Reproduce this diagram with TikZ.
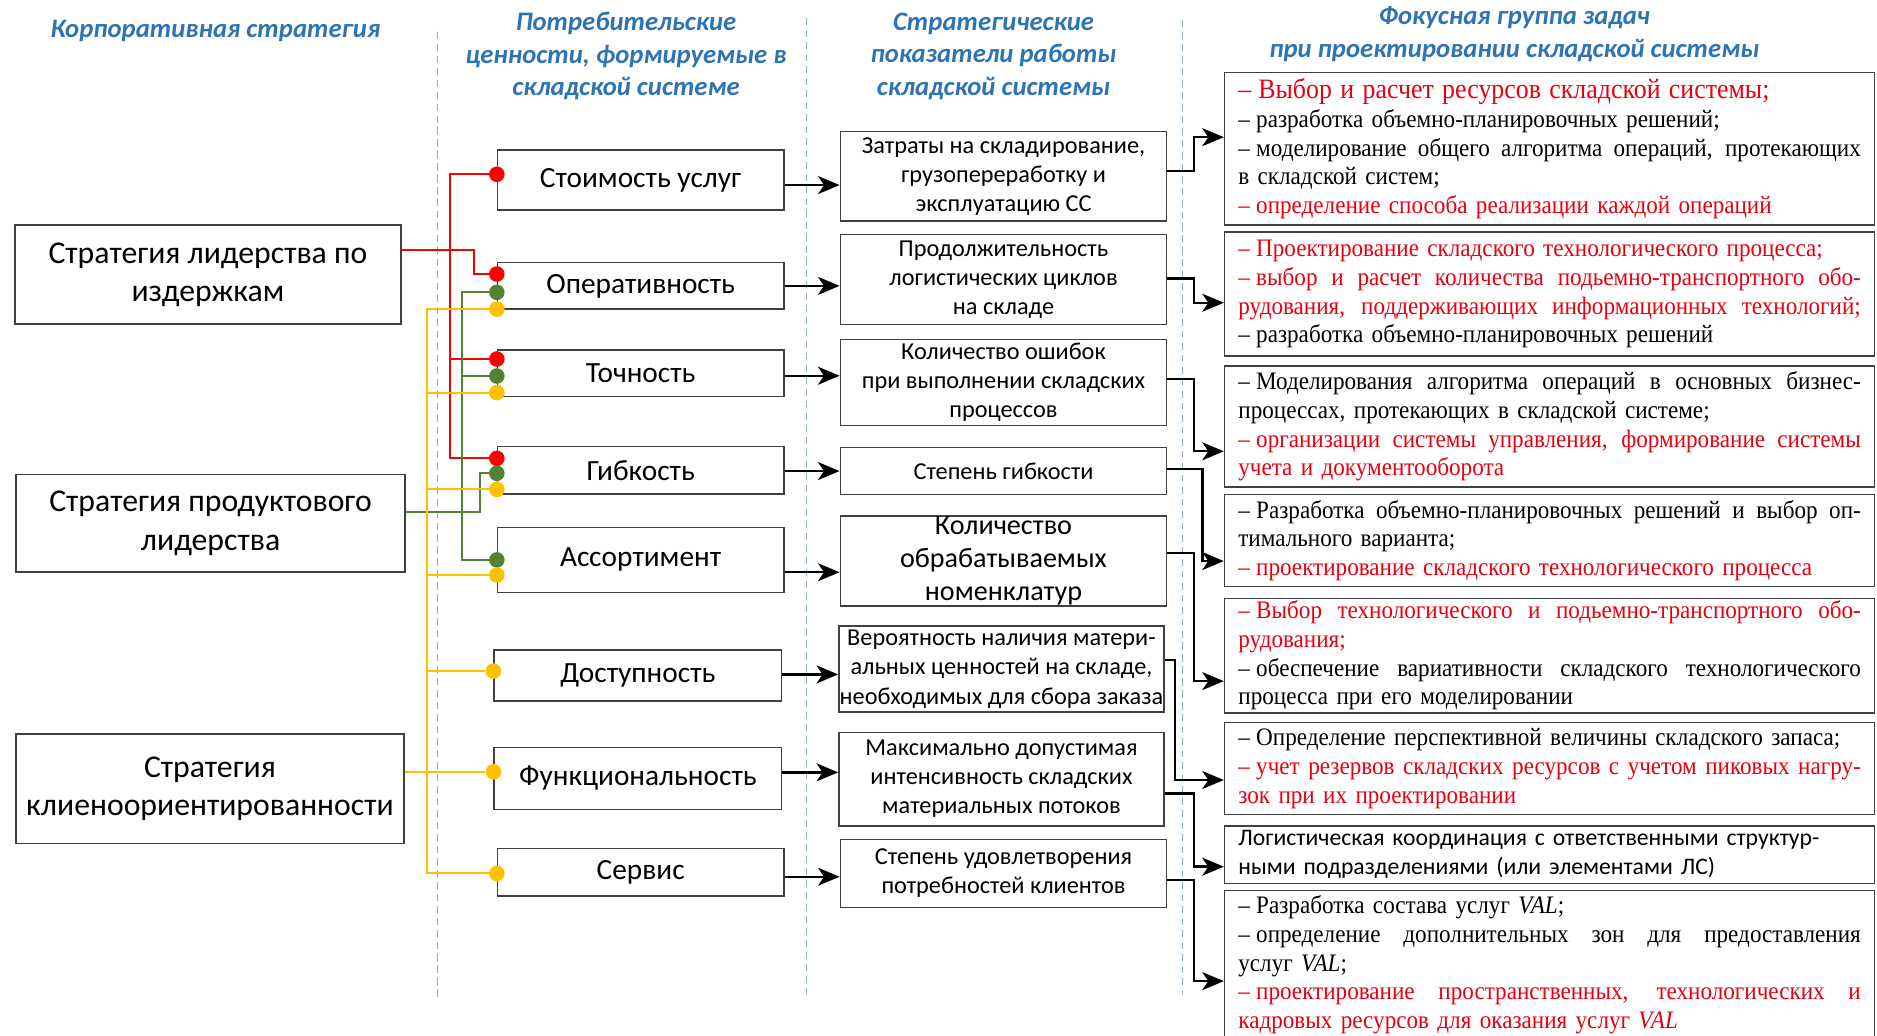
\documentclass[tikz,border=0pt]{standalone}
\usepackage{fontspec}
\setmainfont{Liberation Serif}[FakeStretch=0.92]
\newfontfamily\calib{Carlito}
\usetikzlibrary{arrows.meta}
\definecolor{hdrblue}{RGB}{46,116,181}
\definecolor{cred}{RGB}{255,0,0}
\definecolor{cgreen}{RGB}{84,130,53}
\definecolor{cyellow}{RGB}{255,192,0}
\definecolor{sepblue}{RGB}{143,170,220}
\definecolor{boxgray}{RGB}{64,64,64}
\definecolor{tred}{RGB}{230,0,18}
\tikzstyle{arrow} = [line width=2pt, -{Stealth[length=18pt, width=15pt, inset=5pt]}]
\newcommand{\jline}[1]{\leavevmode\hbox to 520pt{\spaceskip=0.25em plus 1em minus 0.08em\relax #1}}
\newcommand{\dd}{–\kern.25em }

\begin{document}
\begin{tikzpicture}[
	x=1pt, y=-1pt,
	header/.style={align=center, text=hdrblue, font=\calib\bfseries\itshape\fontsize{22.3}{27}\selectfont},
	stratbox/.style={rectangle, draw=boxgray, line width=1.3pt, fill=white, align=center, inner sep=0pt, font=\calib\fontsize{26.5}{32}\selectfont},
	valbox/.style={rectangle, draw=boxgray, line width=1.3pt, fill=white, align=center, inner sep=0pt, minimum width=239pt, font=\calib\fontsize{24.5}{27}\selectfont},
	metricbox/.style={rectangle, draw=boxgray, line width=1.3pt, fill=white, align=center, inner sep=0pt, minimum width=272.6pt, font=\calib\fontsize{20.3}{24.3}\selectfont},
	taskbox/.style={rectangle, draw=boxgray, line width=1.3pt, fill=white, align=left, inner xsep=11.5pt, inner ysep=0pt, text width=520pt, font=\fontsize{21}{24}\selectfont},
	dot/.style={circle, inner sep=0pt, minimum size=13pt},
	sepline/.style={sepblue, line width=0.9pt, dash pattern=on 6pt off 4pt},
	redline/.style={cred, line width=1.6pt},
	greenline/.style={cgreen, line width=1.6pt},
	yellowline/.style={cyellow, line width=1.6pt}
]
\useasboundingbox (0,0) rectangle (1568,865);

% Column separators
\foreach \sx/\sy/\ey in {365.7/26.5/833.7, 673.5/15/830, 987.6/16.7/830}
	\draw[sepline] (\sx,\sy) -- (\sx,\ey);

% Headers
\node[header] (H1) at (180,26) {Корпоративная стратегия};
\node[header] (H2) at (523,47) {Потребительские\\ценности, формируемые в\\складской системе};
\node[header] (H3) at (830,47) {Стратегические\\показатели работы\\складской системы};
\node[header] (H4) at (1265,28.5) {Фокусная группа задач\\при проектировании складской системы};

% Strategies
\node[stratbox, minimum width=322.6pt, minimum height=82.7pt] (S1) at (173.7,229.4) {Стратегия лидерства по\\издержкам};
\node[stratbox, minimum width=325pt, minimum height=81.6pt] (S2) at (175.9,437.1) {Стратегия продуктового\\лидерства};
\node[stratbox, minimum width=324pt, minimum height=91.3pt] (S3) at (175.4,658.9) {Стратегия\\клиеноориентированности};

% Consumer values
\node[valbox, minimum height=50pt] (V1) at (535.2,150.4) {Стоимость услуг};
\node[valbox, minimum height=38.8pt] (V2) at (535.2,238.8) {Оперативность};
\node[valbox, minimum height=39pt] (V3) at (535.2,311.9) {Точность};
\node[valbox, minimum height=39.7pt] (V4) at (535.2,392.9) {Гибкость};
\node[valbox, minimum height=54.4pt] (V5) at (535.2,467.7) {Ассортимент};
\node[valbox, minimum width=240pt, minimum height=42.6pt] (V6) at (532.8,564.3) {Доступность};
\node[valbox, minimum width=240pt, minimum height=51.7pt] (V7) at (532.9,650.2) {Функциональность};
\node[valbox, minimum height=39.6pt] (V8) at (535.2,728.5) {Сервис};

% Strategic indicators
\node[metricbox, minimum height=74.4pt] (M1) at (838.3,147.2) {Затраты на складирование,\\грузопереработку и\\эксплуатацию СС};
\node[metricbox, minimum height=75.2pt] (M2) at (838.3,233.4) {Продолжительность\\логистических циклов\\на складе};
\node[metricbox, minimum height=71.8pt] (M3) at (838.3,319.4) {Количество ошибок\\при выполнении складских\\процессов};
\node[metricbox, minimum height=39.3pt] (M4) at (838.3,393.4) {Степень гибкости};
\node[metricbox, minimum height=75.5pt, font=\calib\fontsize{23.5}{27.5}\selectfont] (M5) at (838.3,468.6) {Количество\\обрабатываемых\\номенклатур};
\node[metricbox, minimum width=271.6pt, minimum height=72pt] (M6) at (836.6,559) {Вероятность наличия матери-\\альных ценностей на складе,\\необходимых для сбора заказа};
\node[metricbox, minimum width=271.6pt, minimum height=78pt] (M7) at (836.6,650.8) {Максимально допустимая\\интенсивность складских\\материальных потоков};
\node[metricbox, minimum height=56.8pt] (M8) at (838.3,729.6) {Степень удовлетворения\\потребностей клиентов};

% Focus tasks
\node[taskbox, minimum height=127.6pt] (T1) at (1294.5,124.2) {%
	{\color{tred}\fontsize{23.5}{24}\selectfont \dd Выбор и расчет ресурсов складской системы;}\\
	\dd разработка объемно-планировочных решений;\\
	\jline{\dd моделирование общего алгоритма операций, протекающих}\\
	в складской систем;\\
	{\color{tred}\dd определение способа реализации каждой операций}};
\node[taskbox, minimum height=103.4pt] (T2) at (1294.5,245.7) {%
	{\color{tred}\dd Проектирование складского технологического процесса;}\\
	{\color{tred}\jline{\dd выбор и расчет количества подьемно-транспортного обо-}}\\
	{\color{tred}\jline{рудования, поддерживающих информационных технологий;}}\\
	\dd разработка объемно-планировочных решений};
\node[taskbox, minimum height=100.8pt] (T3) at (1294.5,356.2) {%
	\jline{\dd Моделирования алгоритма операций в основных бизнес-}\\
	процессах, протекающих в складской системе;\\
	{\color{tred}\jline{\dd организации системы управления, формирование системы}}\\
	{\color{tred}учета и документооборота}};
\node[taskbox, minimum height=77pt] (T4) at (1294.5,451.5) {%
	\jline{\dd Разработка объемно-планировочных решений и выбор оп-}\\
	тимального варианта;\\
	{\color{tred}\dd проектирование складского технологического процесса}};
\node[taskbox, minimum height=95.6pt] (T5) at (1294.5,547.6) {%
	{\color{tred}\jline{\dd Выбор технологического и подьемно-транспортного обо-}}\\
	{\color{tred}рудования;}\\
	\jline{\dd обеспечение вариативности складского технологического}\\
	процесса при его моделировании};
\node[taskbox, minimum height=76.6pt] (T6) at (1294.5,642) {%
	\dd Определение перспективной величины складского запаса;\\
	{\color{tred}\jline{\dd учет резервов складских ресурсов с учетом пиковых нагру-}}\\
	{\color{tred}зок при их проектировании}};
\node[taskbox, minimum height=48.2pt, font=\calib\fontsize{19.8}{24}\selectfont] (T7) at (1294.5,713.9) {%
	Логистическая координация с ответственными структур-\\
	ными подразделениями (или элементами ЛС)};
\node[taskbox, minimum height=124pt] (T8) at (1294.5,806) {%
	\dd Разработка состава услуг \textit{VAL};\\
	\jline{\dd определение дополнительных зон для предоставления}\\
	услуг \textit{VAL};\\
	{\color{tred}\jline{\dd проектирование пространственных, технологических и}}\\
	{\color{tred}кадровых ресурсов для оказания услуг \textit{VAL}}};

% Dots on the values
\node[dot, fill=cred] (r1) at ([yshift=4.8pt]V1.west) {};
\node[dot, fill=cred] (r2) at ([yshift=9.9pt]V2.west) {};
\node[dot, fill=cred] (r3) at ([yshift=12pt]V3.west) {};
\node[dot, fill=cred] (r4) at ([yshift=10pt]V4.west) {};
\node[dot, fill=cgreen] (g2) at ([yshift=-5.4pt]V2.west) {};
\node[dot, fill=cgreen] (g3) at ([yshift=-2.2pt]V3.west) {};
\node[dot, fill=cgreen] (g4) at ([yshift=-2.5pt]V4.west) {};
\node[dot, fill=cgreen] (g5) at (V5.west) {};
\node[dot, fill=cyellow] (y2) at ([yshift=-19.4pt]V2.west) {};
\node[dot, fill=cyellow] (y3) at ([yshift=-16.1pt]V3.west) {};
\node[dot, fill=cyellow] (y4) at ([yshift=-15.9pt]V4.west) {};
\node[dot, fill=cyellow] (y5) at ([yshift=-12.7pt]V5.west) {};
\node[dot, fill=cyellow] (y6) at ([yshift=3.7pt]V6.west) {};
\node[dot, fill=cyellow] (y7) at ([yshift=5.5pt]V7.west) {};
\node[dot, fill=cyellow] (y8) at ([yshift=-1.1pt]V8.west) {};

% Cost leadership links
\coordinate (rx) at (376,0);
\draw[redline] (r1) -| (rx |- r4) -- (r4);
\draw[redline] (rx |- r3) -- (r3);
\draw[redline] ([yshift=20.4pt]S1.east) -- ++(60,0) |- (r2);

% Product leadership links
\coordinate (gx) at (386,0);
\draw[greenline] (g2) -| (gx |- g5) -- (g5);
\draw[greenline] (gx |- g3) -- (g3);
\draw[greenline] ([yshift=9.6pt]S2.east) -- ++(62.3,0) |- (g4);

% Customer orientation links
\coordinate (yx) at (356.5,0);
\draw[yellowline] (y2) -| (yx |- y8) -- (y8);
\foreach \k in {3,...,6}
	\draw[yellowline] (yx |- y\k) -- (y\k);
\draw[yellowline] (S3.east |- y7) -- (y7);

% Values to indicators
\foreach \v/\m/\d in {V1/M1/-4.2, V2/M2/0, V3/M3/-2, V4/M4/-0.6, V5/M5/-10.3, V6/M6/0.9, V7/M7/5, V8/M8/-3.9}
	\draw[arrow] ([yshift=\d pt]\v.east) -- ([yshift=\d pt]\v.east -| \m.west);

% Indicators to tasks
\foreach \m/\t/\a/\dx/\b in {M1/T1/4.6/22.4/9.6, M2/T2/0.9/22.4/-7.2, M3/T3/2.8/22.4/-20.8, M4/T4/1.6/29.4/-17.2, M5/T5/6.6/22.4/-21.4, M6/T6/7.5/8.6/-9.6, M7/T7/-12.2/24.6/-10.1, M8/T8/-5.4/22.4/-13.6}
	\draw[arrow] ([yshift=\a pt]\m.east) -- ++(\dx,0) |- ([yshift=\b pt]\t.west);

\end{tikzpicture}
\end{document}
